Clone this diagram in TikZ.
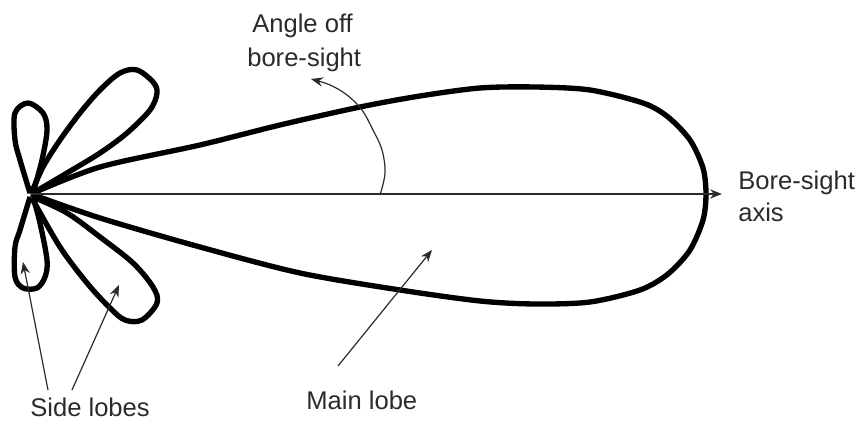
\documentclass[tikz,border=0pt]{standalone}
\usepackage{fontspec}
\setmainfont{Liberation Sans}
\usetikzlibrary{arrows.meta}
\definecolor{ink}{HTML}{2B2B2B}
\tikzset{
  lobe/.style={line width=4pt,black,line join=round},
  pointer/.style={line width=0.9pt,ink,-{Stealth[length=9pt,width=7pt]}},
  lab/.style={font=\fontsize{19.2}{24}\selectfont,text=ink,align=left,inner sep=0pt,anchor=base west}
}
\begin{document}
\begin{tikzpicture}[x=0.75pt,y=-0.75pt]
\useasboundingbox (0,0) rectangle (857,423);
\coordinate (o) at (31,194);
% main lobe
\draw[lobe] plot[smooth,tension=0.5] coordinates {(31,194) (100,167) (200,145) (280,125) (360,107) (420,96) (480,88) (535,87) (590,90) (643,103) (668,117) (690,140) (703,168) (706,194) (703,220) (690,250) (668,274) (640,290) (590,302) (535,304) (480,301) (400,290) (300,273) (200,247) (100,218) (31,194)};
% upper side lobes
\draw[lobe] plot[smooth,tension=0.55] coordinates {(31,194) (43,167) (60,140) (80,113) (100,90) (120,73) (137,70) (153,82) (157,93) (150,110) (127,133) (100,153) (67,173) (33,193)};
\draw[lobe] plot[smooth,tension=0.55] coordinates {(30,193) (20,160) (15,140) (15,113) (28,103) (43,113) (47,130) (42,160) (33,193)};
% lower side lobes
\draw[lobe] plot[smooth,tension=0.55] coordinates {(30,197) (20,230) (15,247) (15,277) (23,288) (37,288) (45,277) (47,260) (40,223) (33,197)};
\draw[lobe] plot[smooth,tension=0.55] coordinates {(33,200) (60,247) (87,283) (110,308) (125,320) (142,320) (157,303) (153,287) (133,263) (100,237) (67,213) (33,197)};
% labels
\node[lab] (angle) at (252,33) {Angle off};
\node[lab] (bore) at (247,67) {bore-sight};
\node[lab] (axisa) at (738,190) {Bore-sight};
\node[lab] (axisb) at (738,222) {axis};
\node[lab] (main) at (306,410) {Main lobe};
\node[lab] (side) at (30,417) {Side lobes};
% pointers
\coordinate (axistip) at (722,194);
\draw[line width=1.1pt,ink,-{Stealth[length=9pt,width=7pt]}] (o) -- (axistip);
\coordinate (arc0) at (380,195);
\coordinate (arc1) at (311,79);
\draw[pointer] plot[smooth,tension=0.6] coordinates {(arc0) (385,173) (382,150) (373,130) (362,110) (347,95) (330,85) (arc1)};
\coordinate (s1t) at (48,390);
\coordinate (s1h) at (23,262);
\coordinate (s2t) at (72,390);
\coordinate (s2h) at (119,285);
\coordinate (mt) at (338,366);
\coordinate (mh) at (432,250);
\draw[pointer] (s1t) -- (s1h);
\draw[pointer] (s2t) -- (s2h);
\draw[pointer] (mt) -- (mh);
\end{tikzpicture}
\end{document}
